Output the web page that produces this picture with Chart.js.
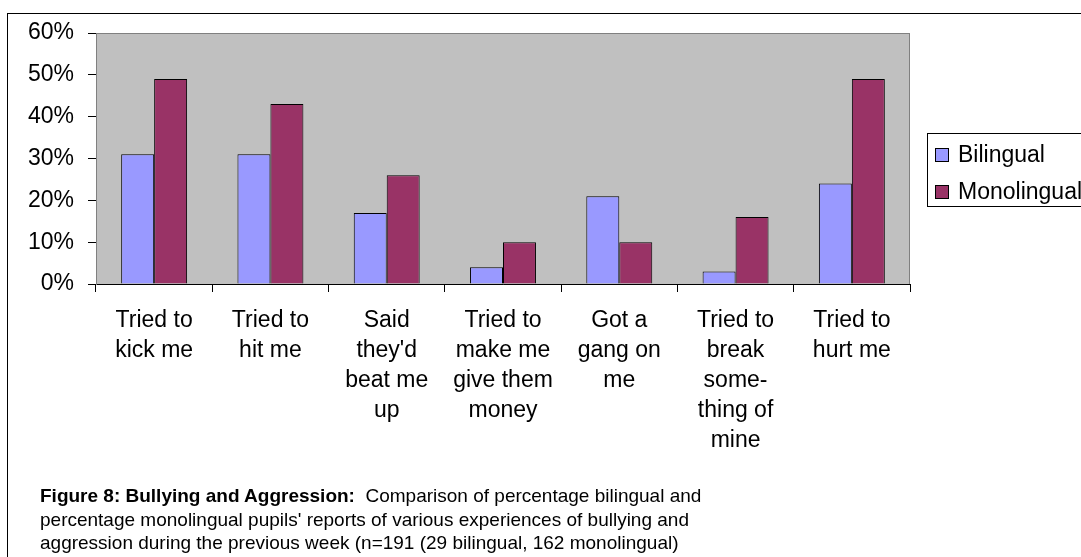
<!DOCTYPE html>
<html>
<head>
<meta charset="utf-8">
<script src="https://cdn.jsdelivr.net/npm/chart.js@4.4.1/dist/chart.umd.min.js"></script>
<style>
  html, body { margin: 0; padding: 0; background: #fff; overflow: hidden; }
  #frame { position: absolute; left: 7px; top: 13px; width: 1200px; height: 700px; border: 1px solid #000; }
  #wrap { position: absolute; left: 0; top: 0; width: 1081px; height: 557px; }
  #caption {
    position: absolute; left: 40px; top: 484px;
    font-family: "Liberation Sans", Arial, sans-serif; font-size: 19px; line-height: 23.5px; color: #000;
    white-space: nowrap;
  }
</style>
</head>
<body>
<div id="frame"></div>
<div id="wrap"><canvas id="myChart" width="1081" height="557"></canvas></div>
<div id="caption"><b>Figure 8: Bullying and Aggression:</b>&nbsp; Comparison of percentage bilingual and<br>percentage monolingual pupils' reports of various experiences of bullying and<br>aggression during the previous week (n=191 (29 bilingual, 162 monolingual)</div>
<script>
var categories = [
  ["Tried to", "kick me"],
  ["Tried to", "hit me"],
  ["Said", "they'd", "beat me", "up"],
  ["Tried to", "make me", "give them", "money"],
  ["Got a", "gang on", "me"],
  ["Tried to", "break", "some-", "thing of", "mine"],
  ["Tried to", "hurt me"]
];
var bilingual = [31, 31, 17, 4, 21, 3, 24];
var monolingual = [49, 43, 26, 10, 10, 16, 49];
var seriesNames = ["Bilingual", "Monolingual"];
var yTicks = [0, 10, 20, 30, 40, 50, 60];

var FONT = "'Liberation Sans', Arial, sans-serif";

// grey plot area with a thin border behind the bars
var plotBackground = {
  id: 'plotBackground',
  beforeDraw: function(chart) {
    var a = chart.chartArea, ctx = chart.ctx;
    ctx.save();
    ctx.fillStyle = '#C0C0C0';
    ctx.fillRect(a.left, a.top, a.right - a.left, a.bottom - a.top);
    ctx.strokeStyle = '#808080';
    ctx.lineWidth = 1;
    ctx.strokeRect(a.left + 0.5, a.top + 0.5, a.right - a.left - 1, a.bottom - a.top);
    ctx.restore();
  }
};

// boxed legend on the right, cut off by the edge
var boxLegend = {
  id: 'boxLegend',
  afterDraw: function(chart) {
    var ctx = chart.ctx;
    ctx.save();
    ctx.strokeStyle = '#000';
    ctx.lineWidth = 1;
    ctx.strokeRect(927.5, 133.5, 200, 73);
    ctx.font = '23px ' + FONT;
    ctx.textBaseline = 'middle';
    chart.data.datasets.forEach(function(ds, i) {
      var y = 148 + i * 37;
      ctx.fillStyle = ds.backgroundColor;
      ctx.fillRect(935, y, 14, 14);
      ctx.strokeRect(935.5, y + 0.5, 13, 13);
      ctx.fillStyle = '#000';
      ctx.fillText(ds.label, 958, y + 8);
    });
    ctx.restore();
  }
};

var ctx = document.getElementById("myChart");
var myChart = new Chart(ctx, {
  type: 'bar',
  data: {
    labels: categories,
    datasets: [{
      label: seriesNames[0],
      data: bilingual,
      backgroundColor: '#9999FF',
      borderColor: '#000',
      borderWidth: 1
    }, {
      label: seriesNames[1],
      data: monolingual,
      backgroundColor: '#993366',
      borderColor: '#000',
      borderWidth: 1
    }]
  },
  options: {
    responsive: false,
    animation: false,
    layout: { padding: { left: 0, right: 171, top: 33, bottom: 93 } },
    datasets: { bar: { categoryPercentage: 0.567, barPercentage: 1 } },
    plugins: { legend: { display: false }, tooltip: { enabled: false } },
    scales: {
      x: {
        afterFit: function(axis) { axis.height = 180; },
        grid: { drawOnChartArea: false, drawTicks: true, tickLength: 8, color: '#000', offset: true },
        border: { color: '#000', width: 1 },
        ticks: {
          color: '#000', padding: 14, maxRotation: 0, autoSkip: false,
          font: { family: FONT, size: 23, lineHeight: 1.3 }
        }
      },
      y: {
        min: 0, max: 60,
        afterFit: function(axis) { axis.width = 96; },
        afterBuildTicks: function(axis) { axis.ticks = yTicks.map(function(v) { return { value: v }; }); },
        grid: { drawOnChartArea: false, drawTicks: true, tickLength: 8, color: '#000' },
        border: { color: '#808080', width: 1 },
        ticks: {
          color: '#000', padding: 14,
          font: { family: FONT, size: 23 },
          callback: function(v) { return v + '%'; }
        }
      }
    }
  },
  plugins: [plotBackground, boxLegend]
});
</script>
</body>
</html>
